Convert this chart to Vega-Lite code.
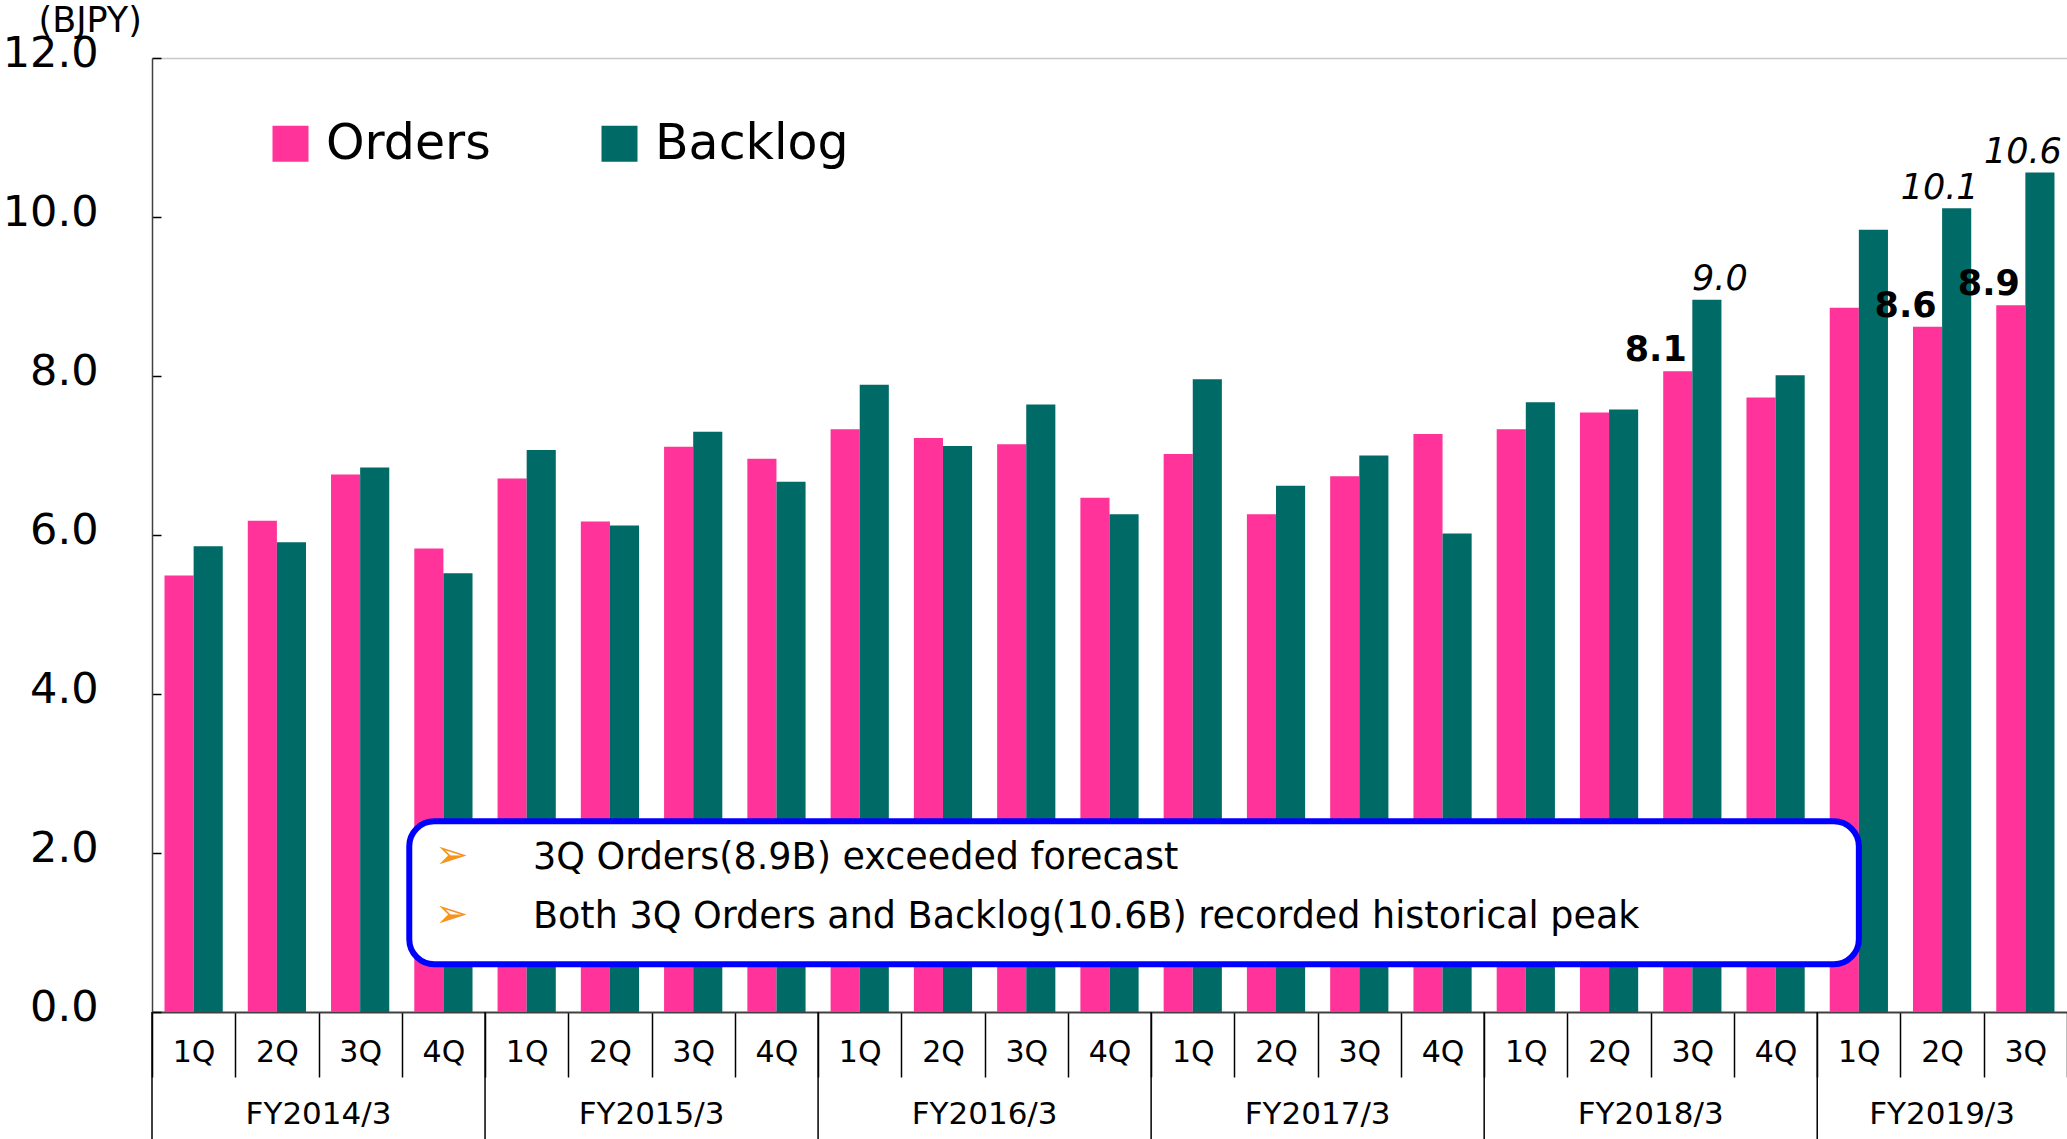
{
  "$schema": "https://vega.github.io/schema/vega-lite/v6.json",
  "width": 1915,
  "height": 954,
  "autosize": {"type": "none"},
  "padding": {"left": 152, "top": 58, "right": 0, "bottom": 127},
  "background": "white",
  "config": {"view": {"stroke": null}, "font": "DejaVu Sans"},
  "datasets": {
    "bars": [
      {"q": "FY2014/3 1Q", "series": "Orders", "value": 5.49},
      {"q": "FY2014/3 1Q", "series": "Backlog", "value": 5.86},
      {"q": "FY2014/3 2Q", "series": "Orders", "value": 6.18},
      {"q": "FY2014/3 2Q", "series": "Backlog", "value": 5.91},
      {"q": "FY2014/3 3Q", "series": "Orders", "value": 6.76},
      {"q": "FY2014/3 3Q", "series": "Backlog", "value": 6.85},
      {"q": "FY2014/3 4Q", "series": "Orders", "value": 5.83},
      {"q": "FY2014/3 4Q", "series": "Backlog", "value": 5.52},
      {"q": "FY2015/3 1Q", "series": "Orders", "value": 6.71},
      {"q": "FY2015/3 1Q", "series": "Backlog", "value": 7.07},
      {"q": "FY2015/3 2Q", "series": "Orders", "value": 6.17},
      {"q": "FY2015/3 2Q", "series": "Backlog", "value": 6.12},
      {"q": "FY2015/3 3Q", "series": "Orders", "value": 7.11},
      {"q": "FY2015/3 3Q", "series": "Backlog", "value": 7.30},
      {"q": "FY2015/3 4Q", "series": "Orders", "value": 6.96},
      {"q": "FY2015/3 4Q", "series": "Backlog", "value": 6.67},
      {"q": "FY2016/3 1Q", "series": "Orders", "value": 7.33},
      {"q": "FY2016/3 1Q", "series": "Backlog", "value": 7.89},
      {"q": "FY2016/3 2Q", "series": "Orders", "value": 7.22},
      {"q": "FY2016/3 2Q", "series": "Backlog", "value": 7.12},
      {"q": "FY2016/3 3Q", "series": "Orders", "value": 7.14},
      {"q": "FY2016/3 3Q", "series": "Backlog", "value": 7.64},
      {"q": "FY2016/3 4Q", "series": "Orders", "value": 6.47},
      {"q": "FY2016/3 4Q", "series": "Backlog", "value": 6.26},
      {"q": "FY2017/3 1Q", "series": "Orders", "value": 7.02},
      {"q": "FY2017/3 1Q", "series": "Backlog", "value": 7.96},
      {"q": "FY2017/3 2Q", "series": "Orders", "value": 6.26},
      {"q": "FY2017/3 2Q", "series": "Backlog", "value": 6.62},
      {"q": "FY2017/3 3Q", "series": "Orders", "value": 6.74},
      {"q": "FY2017/3 3Q", "series": "Backlog", "value": 7.00},
      {"q": "FY2017/3 4Q", "series": "Orders", "value": 7.27},
      {"q": "FY2017/3 4Q", "series": "Backlog", "value": 6.02},
      {"q": "FY2018/3 1Q", "series": "Orders", "value": 7.33},
      {"q": "FY2018/3 1Q", "series": "Backlog", "value": 7.67},
      {"q": "FY2018/3 2Q", "series": "Orders", "value": 7.54},
      {"q": "FY2018/3 2Q", "series": "Backlog", "value": 7.58},
      {"q": "FY2018/3 3Q", "series": "Orders", "value": 8.06, "label": "8.1"},
      {"q": "FY2018/3 3Q", "series": "Backlog", "value": 8.96, "label": "9.0"},
      {"q": "FY2018/3 4Q", "series": "Orders", "value": 7.73},
      {"q": "FY2018/3 4Q", "series": "Backlog", "value": 8.01},
      {"q": "FY2019/3 1Q", "series": "Orders", "value": 8.86},
      {"q": "FY2019/3 1Q", "series": "Backlog", "value": 9.84},
      {"q": "FY2019/3 2Q", "series": "Orders", "value": 8.62, "label": "8.6"},
      {"q": "FY2019/3 2Q", "series": "Backlog", "value": 10.11, "label": "10.1"},
      {"q": "FY2019/3 3Q", "series": "Orders", "value": 8.89, "label": "8.9"},
      {"q": "FY2019/3 3Q", "series": "Backlog", "value": 10.56, "label": "10.6"}
    ],
    "years": [
      {"year": "FY2014/3", "first": "FY2014/3 1Q", "mid": "FY2014/3 2Q", "nq": 4},
      {"year": "FY2015/3", "first": "FY2015/3 1Q", "mid": "FY2015/3 2Q", "nq": 4},
      {"year": "FY2016/3", "first": "FY2016/3 1Q", "mid": "FY2016/3 2Q", "nq": 4},
      {"year": "FY2017/3", "first": "FY2017/3 1Q", "mid": "FY2017/3 2Q", "nq": 4},
      {"year": "FY2018/3", "first": "FY2018/3 1Q", "mid": "FY2018/3 2Q", "nq": 4},
      {"year": "FY2019/3", "first": "FY2019/3 1Q", "mid": "FY2019/3 2Q", "nq": 3}
    ]
  },
  "layer": [
    {
      "data": {"name": "bars"},
      "mark": {"type": "bar"},
      "encoding": {
        "x": {
          "field": "q", "type": "nominal", "sort": null,
          "scale": {
            "domain": ["FY2014/3 1Q","FY2014/3 2Q","FY2014/3 3Q","FY2014/3 4Q","FY2015/3 1Q","FY2015/3 2Q","FY2015/3 3Q","FY2015/3 4Q","FY2016/3 1Q","FY2016/3 2Q","FY2016/3 3Q","FY2016/3 4Q","FY2017/3 1Q","FY2017/3 2Q","FY2017/3 3Q","FY2017/3 4Q","FY2018/3 1Q","FY2018/3 2Q","FY2018/3 3Q","FY2018/3 4Q","FY2019/3 1Q","FY2019/3 2Q","FY2019/3 3Q"],
            "paddingInner": 0, "paddingOuter": 0
          },
          "axis": {
            "title": null,
            "labelExpr": "split(datum.value, ' ')[1]",
            "labelAngle": 0,
            "labelFontSize": 30,
            "labelColor": "#000000",
            "labelBaseline": "middle",
            "labelPadding": -25,
            "tickBand": "extent",
            "tickSize": 65,
            "tickColor": "#000000",
            "tickWidth": 1.5,
            "domainColor": "#404040",
            "domainWidth": 2
          }
        },
        "xOffset": {
          "field": "series", "type": "nominal", "sort": ["Orders", "Backlog"],
          "scale": {"domain": ["Orders", "Backlog"], "paddingInner": 0, "paddingOuter": 0.43}
        },
        "y": {
          "field": "value", "type": "quantitative",
          "scale": {"domain": [0, 12], "nice": false},
          "axis": {
            "title": "(BJPY)",
            "titleAngle": 0,
            "titleFontSize": 35,
            "titleFontWeight": "normal",
            "titleColor": "#000000",
            "titleAlign": "left",
            "titleBaseline": "middle",
            "titleX": -114,
            "titleY": -38,
            "values": [0, 2, 4, 6, 8, 10, 12],
            "format": ".1f",
            "labelFontSize": 43,
            "labelColor": "#000000",
            "labelPadding": 63,
            "labelOffset": -5,
            "tickSize": -9,
            "tickColor": "#000000",
            "tickWidth": 1.5,
            "domainColor": "#404040",
            "domainWidth": 1.5,
            "grid": true,
            "gridColor": "#c8c8c8",
            "gridWidth": 1.5,
            "gridOpacity": {"condition": {"test": "datum.value == 12", "value": 1}, "value": 0}
          }
        },
        "color": {
          "field": "series", "type": "nominal", "sort": ["Orders", "Backlog"],
          "scale": {"domain": ["Orders", "Backlog"], "range": ["#FF3399", "#006A66"]},
          "legend": {
            "orient": "none",
            "legendX": 114,
            "legendY": 61,
            "direction": "horizontal",
            "title": null,
            "padding": 0,
            "symbolType": "square",
            "symbolSize": 1296,
            "symbolStrokeWidth": 0,
            "symbolOpacity": 1,
            "labelFontSize": 49,
            "labelColor": "#000000",
            "labelOffset": 11,
            "labelLimit": 400,
            "columnPadding": 104
          }
        }
      }
    },
    {
      "data": {"values": [{}]},
      "mark": {"type": "rect", "fill": "white", "stroke": "#0000FF", "strokeWidth": 6, "cornerRadius": 25},
      "encoding": {
        "x": {"datum": "FY2014/3 4Q", "type": "nominal", "bandPosition": 0.09},
        "x2": {"datum": "FY2019/3 1Q", "bandPosition": 0.5},
        "y": {"datum": 2.40, "type": "quantitative"},
        "y2": {"datum": 0.60}
      }
    },
    {
      "data": {"values": [{}]},
      "mark": {"type": "text", "text": ["➢", "➢"], "fontSize": 40, "fill": "#F7941D", "align": "center", "baseline": "middle", "lineHeight": 59},
      "encoding": {
        "x": {"datum": "FY2014/3 4Q", "type": "nominal", "bandPosition": 0.6},
        "y": {"datum": 1.96, "type": "quantitative"}
      }
    },
    {
      "data": {"values": [{}]},
      "mark": {"type": "text", "text": ["3Q Orders(8.9B) exceeded forecast", "Both 3Q Orders and Backlog(10.6B) recorded historical peak"], "fontSize": 36.5, "fill": "#000000", "align": "left", "baseline": "middle", "lineHeight": 59},
      "encoding": {
        "x": {"datum": "FY2015/3 1Q", "type": "nominal", "bandPosition": 0.576},
        "y": {"datum": 1.94, "type": "quantitative"}
      }
    },
    {
      "data": {"name": "bars"},
      "transform": [{"filter": "datum.label && datum.series == 'Orders'"}],
      "mark": {"type": "text", "fontSize": 35, "fontWeight": "bold", "fill": "#000000", "align": "center", "baseline": "alphabetic", "dx": -22, "dy": -10},
      "encoding": {
        "x": {"field": "q", "type": "nominal"},
        "xOffset": {"field": "series", "type": "nominal"},
        "y": {"field": "value", "type": "quantitative"},
        "text": {"field": "label"}
      }
    },
    {
      "data": {"name": "bars"},
      "transform": [{"filter": "datum.label == '9.0'"}],
      "mark": {"type": "text", "fontSize": 35, "fontStyle": "italic", "fill": "#000000", "align": "center", "baseline": "alphabetic", "dx": 13, "dy": -10},
      "encoding": {
        "x": {"field": "q", "type": "nominal"},
        "xOffset": {"field": "series", "type": "nominal"},
        "y": {"field": "value", "type": "quantitative"},
        "text": {"field": "label"}
      }
    },
    {
      "data": {"name": "bars"},
      "transform": [{"filter": "datum.label == '10.1' || datum.label == '10.6'"}],
      "mark": {"type": "text", "fontSize": 35, "fontStyle": "italic", "fill": "#000000", "align": "center", "baseline": "alphabetic", "dx": -17, "dy": -9},
      "encoding": {
        "x": {"field": "q", "type": "nominal"},
        "xOffset": {"field": "series", "type": "nominal"},
        "y": {"field": "value", "type": "quantitative"},
        "text": {"field": "label"}
      }
    },
    {
      "data": {"name": "years"},
      "mark": {"type": "rule", "color": "#000000", "strokeWidth": 1.5},
      "encoding": {
        "x": {"field": "first", "type": "nominal", "bandPosition": 0},
        "y": {"datum": 0, "type": "quantitative"},
        "y2": {"datum": -1.7}
      }
    },
    {
      "data": {"name": "years"},
      "transform": [{"filter": "datum.nq == 4"}],
      "mark": {"type": "text", "fontSize": 31, "fill": "#000000", "align": "center", "baseline": "middle"},
      "encoding": {
        "x": {"field": "mid", "type": "nominal", "bandPosition": 1},
        "y": {"datum": -1.3, "type": "quantitative"},
        "text": {"field": "year"}
      }
    },
    {
      "data": {"name": "years"},
      "transform": [{"filter": "datum.nq == 3"}],
      "mark": {"type": "text", "fontSize": 31, "fill": "#000000", "align": "center", "baseline": "middle"},
      "encoding": {
        "x": {"field": "mid", "type": "nominal", "bandPosition": 0.5},
        "y": {"datum": -1.3, "type": "quantitative"},
        "text": {"field": "year"}
      }
    }
  ]
}
